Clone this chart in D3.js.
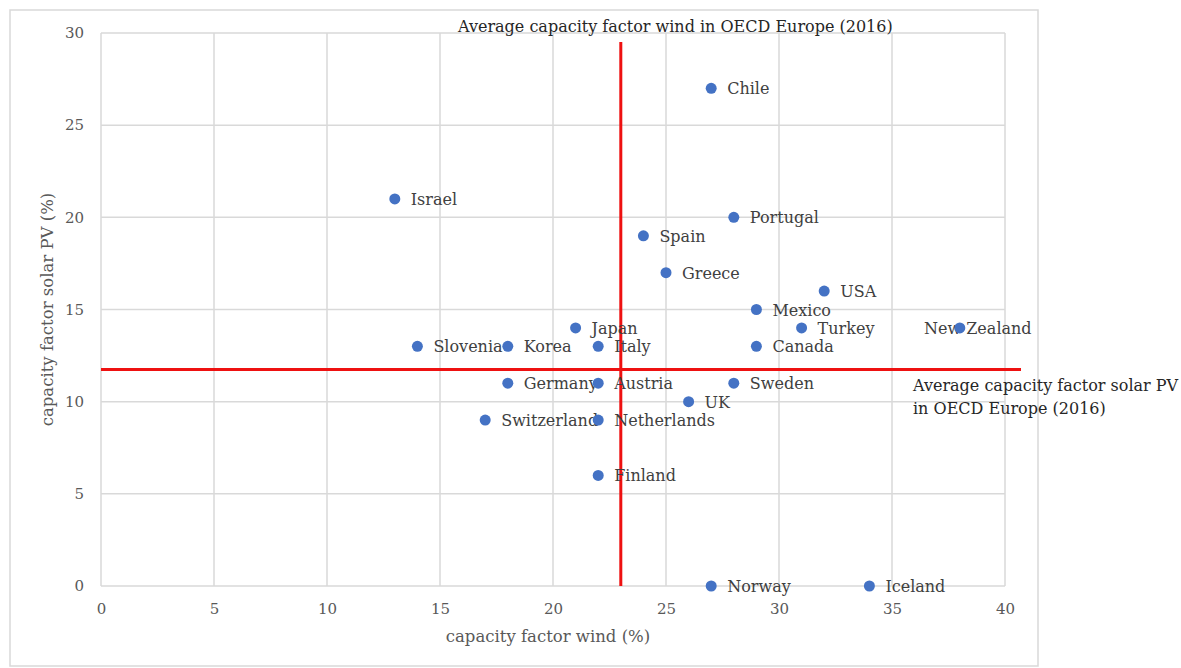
<!DOCTYPE html>
<html>
<head>
<meta charset="utf-8">
<script src="https://cdn.jsdelivr.net/npm/d3@7"></script>
<style>
  body { margin: 0; background: #fff; }
  text { font-family: 'DejaVu Serif', 'Liberation Serif', serif; }
</style>
</head>
<body>
<script>
// DATA
const countries = ['Chile', 'Israel', 'Portugal', 'Spain', 'Greece', 'USA', 'Mexico', 'Japan', 'Turkey', 'New Zealand',
  'Slovenia', 'Korea', 'Italy', 'Canada', 'Germany', 'Austria', 'Sweden', 'UK', 'Switzerland', 'Netherlands',
  'Finland', 'Norway', 'Iceland'];
const windCF = [27, 13, 28, 24, 25, 32, 29, 21, 31, 38, 14, 18, 22, 29, 18, 22, 28, 26, 17, 22, 22, 27, 34];
const solarCF = [27, 21, 20, 19, 17, 16, 15, 14, 14, 14, 13, 13, 13, 13, 11, 11, 11, 10, 9, 9, 6, 0, 0];
const xTicks = [0, 5, 10, 15, 20, 25, 30, 35, 40];
const yTicks = [0, 5, 10, 15, 20, 25, 30];
const avgWind = 23;
const avgSolar = 11.75;

// CONFIGURATION
const width = 1181;
const height = 668;
const margin = { left: 101, right: 176, top: 33, bottom: 82 };
const pointColor = '#4472c4';
const gridColor = '#d9d9d9';
const textColor = '#595959';

const svg = d3.select('body')
  .append('svg')
  .attr('width', width)
  .attr('height', height);

// outer chart border
svg.append('rect')
  .attr('x', 10)
  .attr('y', 10)
  .attr('width', 1028)
  .attr('height', 656)
  .attr('fill', 'none')
  .attr('stroke', gridColor)
  .attr('stroke-width', 1.5);

const xScale = d3.scaleLinear()
  .domain([0, 40])
  .range([margin.left, width - margin.right]);
const yScale = d3.scaleLinear()
  .domain([0, 30])
  .range([height - margin.bottom, margin.top]);

// GRID
svg.append('g')
  .selectAll('line')
  .data(xTicks)
  .enter()
  .append('line')
  .attr('x1', d => xScale(d))
  .attr('x2', d => xScale(d))
  .attr('y1', yScale(0))
  .attr('y2', yScale(30))
  .attr('stroke', gridColor)
  .attr('stroke-width', 1.5);
svg.append('g')
  .selectAll('line')
  .data(yTicks)
  .enter()
  .append('line')
  .attr('x1', xScale(0))
  .attr('x2', xScale(40))
  .attr('y1', d => yScale(d))
  .attr('y2', d => yScale(d))
  .attr('stroke', gridColor)
  .attr('stroke-width', 1.5);

// AXES
const xAxis = svg.append('g')
  .attr('transform', `translate(0, ${yScale(0) + 14})`)
  .call(d3.axisBottom(xScale).tickValues(xTicks).tickSize(0));
const yAxis = svg.append('g')
  .attr('transform', `translate(${xScale(0) - 14}, 0)`)
  .call(d3.axisLeft(yScale).tickValues(yTicks).tickSize(0));
[xAxis, yAxis].forEach(axis => {
  axis.select('.domain').remove();
  axis.selectAll('text')
    .attr('fill', textColor)
    .style('font-size', '15px')
    .style('font-family', "'DejaVu Serif', serif");
});

svg.append('text')
  .attr('x', 548)
  .attr('y', 642)
  .attr('text-anchor', 'middle')
  .attr('fill', textColor)
  .style('font-size', '16.5px')
  .text('capacity factor wind (%)');
svg.append('text')
  .attr('transform', `translate(53, ${(yScale(0) + yScale(30)) / 2}) rotate(-90)`)
  .attr('text-anchor', 'middle')
  .attr('fill', textColor)
  .style('font-size', '16.5px')
  .text('capacity factor solar PV (%)');

// AVERAGE LINES
svg.append('line')
  .attr('x1', xScale(avgWind))
  .attr('x2', xScale(avgWind))
  .attr('y1', 42)
  .attr('y2', yScale(0))
  .attr('stroke', '#ee1111')
  .attr('stroke-width', 3);
svg.append('line')
  .attr('x1', xScale(0))
  .attr('x2', 1021)
  .attr('y1', yScale(avgSolar))
  .attr('y2', yScale(avgSolar))
  .attr('stroke', '#ee1111')
  .attr('stroke-width', 3);

svg.append('text')
  .attr('x', 458)
  .attr('y', 32)
  .attr('fill', '#262626')
  .style('font-size', '16px')
  .text('Average capacity factor wind in OECD Europe (2016)');
const solarNote = svg.append('text')
  .attr('x', 913)
  .attr('y', 391)
  .attr('fill', '#262626')
  .style('font-size', '16px');
solarNote.append('tspan').attr('x', 913).text('Average capacity factor solar PV');
solarNote.append('tspan').attr('x', 913).attr('dy', 23).text('in OECD Europe (2016)');

// POINTS
const points = countries.map((name, i) => ({ name, x: windCF[i], y: solarCF[i] }));

svg.append('g')
  .selectAll('text')
  .data(points)
  .enter()
  .append('text')
  .attr('x', d => d.name === 'New Zealand' ? xScale(d.x) + 18 : xScale(d.x) + 16)
  .attr('y', d => yScale(d.y) + 6)
  .attr('text-anchor', d => d.name === 'New Zealand' ? 'middle' : 'start')
  .attr('fill', '#404040')
  .style('font-size', '16px')
  .text(d => d.name);

svg.append('g')
  .selectAll('circle')
  .data(points)
  .enter()
  .append('circle')
  .attr('cx', d => xScale(d.x))
  .attr('cy', d => yScale(d.y))
  .attr('r', 5.5)
  .attr('fill', pointColor);
</script>
</body>
</html>
